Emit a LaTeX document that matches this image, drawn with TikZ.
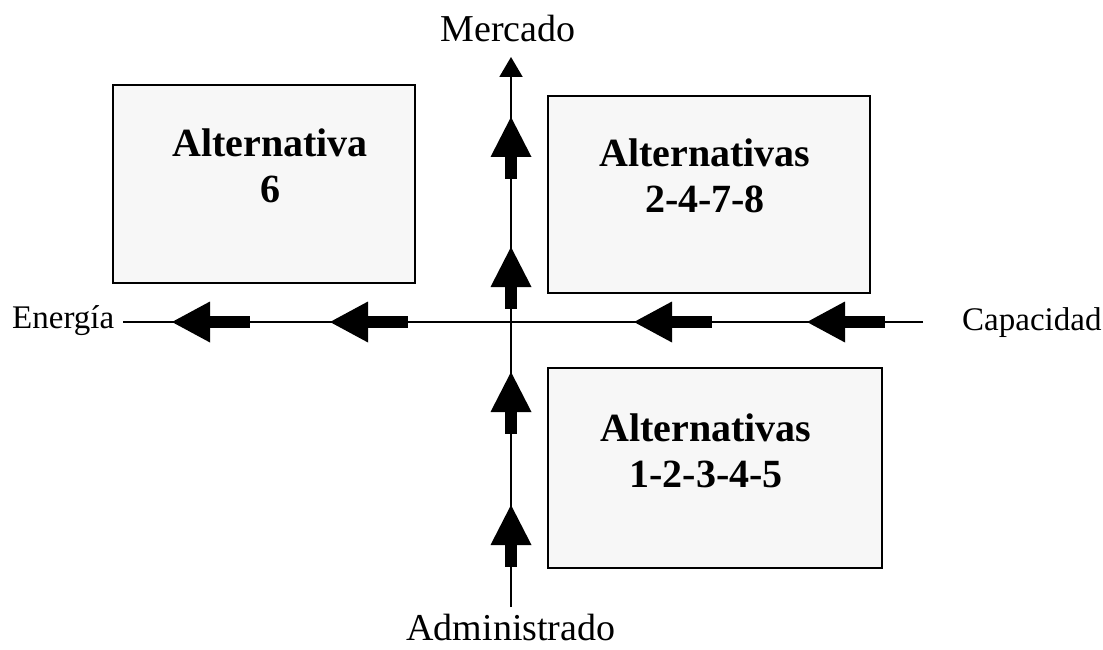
\documentclass[tikz,border=0pt]{standalone}
\usepackage{fontspec}
\setmainfont{Liberation Serif}
\usetikzlibrary{arrows.meta}
\tikzset{
  box/.style={draw, line width=2.5pt, fill=black!3, inner sep=0pt, rectangle},
  boxtext/.style={align=center, font=\bfseries\fontsize{40}{46}\selectfont, inner sep=0pt},
  axislabel/.style={font=\fontsize{38}{44}\selectfont, inner sep=0pt},
  sidelabel/.style={font=\fontsize{33}{38}\selectfont, inner sep=0pt},
  axis/.style={line width=2pt},
  pics/uparrow/.style={code={
    \fill (0,0) -- (-20.5,40) -- (20.5,40) -- cycle;
    \fill (-6,39) rectangle (6,62);
  }},
  pics/leftarrow/.style={code={
    \fill (0,0) -- (38,-20.5) -- (38,20.5) -- cycle;
    \fill (37,-6) rectangle (78,6);
  }}
}
\begin{document}
\begin{tikzpicture}[x=1pt,y=-1pt]
\useasboundingbox (0,0) rectangle (1103,650);
% boxes
\node[box, minimum width=302pt, minimum height=198pt] (b1) at (264,184) {};
\node[box, minimum width=322pt, minimum height=197pt] (b2) at (709,194.5) {};
\node[box, minimum width=334pt, minimum height=200pt] (b3) at (715,468) {};
\node[boxtext] (t1) at (270,166) {Alternativa\\6};
\node[boxtext] (t2) at (705,176) {Alternativas\\2-4-7-8};
\node[boxtext] (t3) at (706,451) {Alternativas\\1-2-3-4-5};
% labels
\node[axislabel, anchor=base] (merc) at (508,42) {Mercado};
\node[axislabel, anchor=base] (adm) at (511,640) {Administrado};
\node[sidelabel, anchor=base west] (ene) at (12,328) {Energía};
\node[sidelabel, anchor=base west] (cap) at (962,330) {Capacidad};
% axes
\coordinate (vb) at (511,607);
\coordinate (vt) at (511,57);
\coordinate (hr) at (923,322);
\coordinate (hl) at (123,322);
\draw[axis, -{Triangle[length=20pt,width=23pt]}] (vb) -- (vt);
\draw[axis] (hr) -- (hl);
% fat arrows
\pic at (511,117) {uparrow};
\pic at (511,247) {uparrow};
\pic at (511,372) {uparrow};
\pic at (511,505) {uparrow};
\pic at (172,322) {leftarrow};
\pic at (330,322) {leftarrow};
\pic at (634,322) {leftarrow};
\pic at (807,322) {leftarrow};
\end{tikzpicture}
\end{document}
